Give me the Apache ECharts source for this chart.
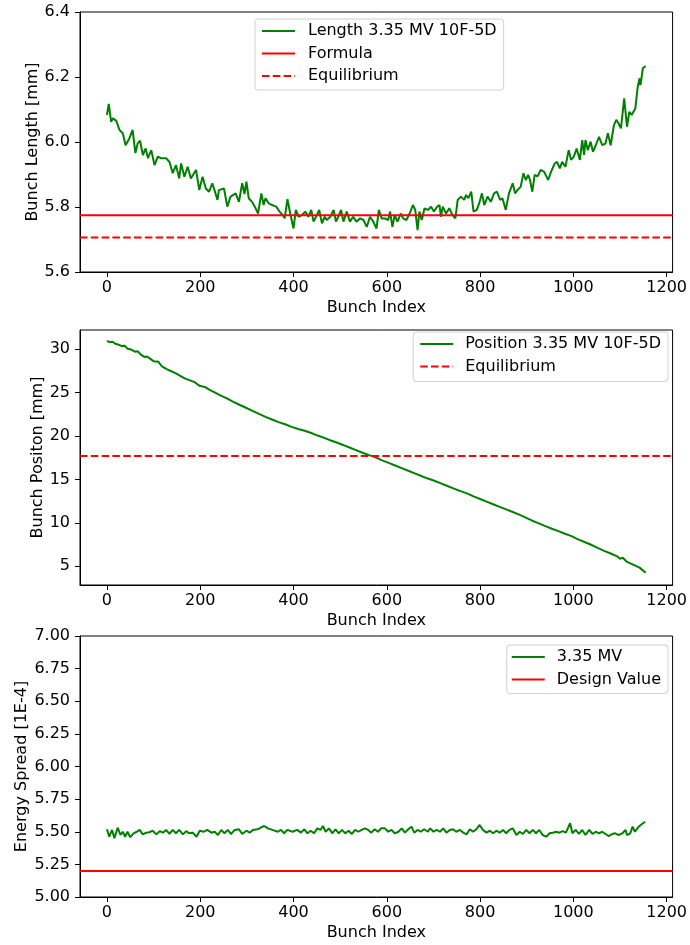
<!DOCTYPE html>
<html>
<head>
<meta charset="utf-8">
<script src="https://cdn.jsdelivr.net/npm/echarts@6/dist/echarts.min.js"></script>
<style>
  html, body { margin: 0; padding: 0; background: #fff; }
  #chart { width: 690px; height: 945px; }
</style>
</head>
<body>
<div id="chart"></div>
<script>
// ---------------- DATA ----------------
const xTicks = [0, 200, 400, 600, 800, 1000, 1200];
const xRange = [-57.75, 1212.75];

// Panel 1: bunch length [mm]
const lengthIdx = [0,4,9,13,20,27,34,40,48,55,61,66,71,77,83,88,95,102,109,116,127,134,141,148,155,159,166,173,180,191,198,205,212,219,226,237,240,251,258,265,276,283,290,295,299,304,311,317,324,331,336,340,347,354,363,370,377,381,387,393,400,405,411,418,425,432,438,443,450,455,461,467,471,479,486,491,496,502,507,514,521,528,535,543,550,557,564,571,578,583,589,596,603,607,612,617,623,630,635,642,649,656,661,666,670,675,681,688,695,701,708,713,716,720,727,734,741,747,752,759,766,770,775,781,786,793,798,804,809,816,823,830,836,843,848,855,862,870,875,880,887,893,898,903,907,912,917,923,930,937,946,951,960,965,971,976,983,990,995,1001,1007,1014,1019,1023,1026,1031,1037,1042,1048,1055,1062,1069,1074,1080,1087,1092,1097,1102,1109,1115,1120,1125,1133,1138,1142,1144,1149,1155];
const lengthVal = [6.083,6.117,6.062,6.073,6.065,6.037,6.027,5.990,6.011,6.037,5.966,5.996,6.004,5.960,5.980,5.950,5.975,5.929,5.955,5.950,5.950,5.939,5.904,5.929,5.888,5.934,5.893,5.924,5.888,5.914,5.852,5.893,5.857,5.847,5.873,5.822,5.852,5.857,5.801,5.832,5.842,5.816,5.873,5.840,5.878,5.827,5.816,5.801,5.780,5.842,5.806,5.827,5.811,5.806,5.801,5.786,5.775,5.765,5.824,5.780,5.734,5.791,5.770,5.775,5.786,5.770,5.791,5.755,5.775,5.791,5.750,5.770,5.760,5.770,5.791,5.755,5.770,5.791,5.755,5.786,5.755,5.770,5.755,5.765,5.760,5.739,5.770,5.755,5.734,5.791,5.765,5.765,5.760,5.786,5.739,5.775,5.755,5.780,5.765,5.760,5.780,5.806,5.791,5.729,5.786,5.760,5.796,5.791,5.801,5.786,5.801,5.806,5.770,5.801,5.780,5.796,5.775,5.765,5.822,5.832,5.822,5.837,5.827,5.847,5.786,5.791,5.811,5.842,5.806,5.832,5.816,5.842,5.847,5.822,5.827,5.791,5.842,5.873,5.842,5.852,5.862,5.904,5.883,5.899,5.883,5.847,5.899,5.894,5.914,5.909,5.883,5.904,5.934,5.939,5.919,5.939,5.924,5.975,5.945,5.955,5.980,5.945,6.006,5.960,6.006,5.975,6.001,5.970,5.990,6.016,5.990,5.996,6.027,5.990,6.052,6.068,6.057,6.042,6.134,6.047,6.093,6.083,6.104,6.170,6.196,6.175,6.227,6.234];
const lengthFormula = 5.775;
const lengthEquilibrium = 5.706;

// Panel 2: bunch position [mm]
const positionIdx = [0,6,12,18,25,32,38,44,52,60,66,72,80,86,94,100,110,118,128,138,148,158,168,178,188,194,200,210,220,232,242,256,270,284,298,312,326,340,354,368,382,396,410,424,438,452,466,480,494,506,520,534,548,562,576,590,604,618,632,646,660,674,688,702,716,730,744,758,772,786,800,814,828,842,856,870,884,898,912,926,940,954,968,982,996,1010,1024,1038,1052,1066,1080,1094,1100,1106,1114,1128,1142,1155];
const positionVal = [30.94,30.80,30.85,30.62,30.50,30.35,30.40,30.05,29.95,29.70,29.75,29.40,29.10,29.15,28.85,28.60,28.55,28.00,27.70,27.45,27.20,26.90,26.60,26.40,26.20,25.95,25.75,25.65,25.30,25.00,24.70,24.35,23.95,23.60,23.25,22.90,22.55,22.20,21.90,21.60,21.35,21.05,20.80,20.60,20.35,20.05,19.78,19.48,19.22,18.97,18.67,18.37,18.07,17.80,17.55,17.20,16.90,16.60,16.30,16.00,15.70,15.40,15.10,14.85,14.55,14.25,13.95,13.65,13.40,13.05,12.75,12.45,12.15,11.85,11.55,11.25,10.95,10.60,10.25,9.95,9.62,9.32,9.05,8.75,8.48,8.10,7.80,7.48,7.12,6.78,6.48,6.15,5.88,5.98,5.55,5.20,4.85,4.25];
const positionEquilibrium = 17.7;
const positionTicks = [5, 10, 15, 20, 25, 30];

// Panel 3: energy spread [1E-4]
const spreadIdx = [0,5,11,16,23,29,34,39,44,50,57,64,70,77,84,91,98,106,113,120,127,134,141,148,155,163,170,176,184,192,199,208,215,224,231,238,245,252,259,266,274,283,290,299,306,313,323,331,337,345,355,366,373,380,387,398,408,416,423,430,437,444,451,458,463,469,476,483,490,497,504,511,518,525,532,539,546,553,560,567,574,581,588,596,603,610,617,625,632,639,646,653,659,666,673,680,688,693,700,707,714,721,728,735,742,749,757,764,771,778,785,792,799,806,814,821,828,835,842,849,856,863,870,878,885,892,899,906,913,920,927,934,942,949,956,963,970,977,984,993,998,1005,1012,1019,1026,1034,1041,1048,1055,1062,1069,1076,1083,1090,1097,1105,1112,1115,1122,1127,1132,1140,1147,1154];
const spreadVal = [5.519,5.462,5.514,5.450,5.531,5.475,5.500,5.462,5.500,5.458,5.488,5.500,5.514,5.480,5.493,5.496,5.508,5.480,5.505,5.493,5.514,5.483,5.514,5.488,5.514,5.480,5.505,5.488,5.493,5.462,5.508,5.500,5.514,5.493,5.500,5.475,5.514,5.488,5.514,5.483,5.514,5.519,5.483,5.508,5.493,5.514,5.519,5.534,5.544,5.526,5.514,5.500,5.514,5.488,5.514,5.500,5.514,5.493,5.519,5.488,5.508,5.488,5.526,5.514,5.544,5.500,5.526,5.488,5.519,5.488,5.514,5.488,5.508,5.483,5.514,5.500,5.514,5.526,5.514,5.493,5.519,5.500,5.526,5.526,5.500,5.514,5.488,5.500,5.526,5.493,5.519,5.539,5.493,5.514,5.500,5.519,5.500,5.526,5.500,5.514,5.500,5.526,5.493,5.514,5.519,5.500,5.514,5.493,5.480,5.519,5.500,5.519,5.552,5.514,5.493,5.508,5.488,5.508,5.493,5.514,5.488,5.514,5.526,5.475,5.500,5.483,5.514,5.488,5.514,5.488,5.514,5.475,5.462,5.488,5.493,5.500,5.493,5.505,5.493,5.565,5.488,5.514,5.483,5.514,5.475,5.514,5.483,5.500,5.488,5.500,5.483,5.467,5.483,5.488,5.475,5.488,5.514,5.475,5.488,5.539,5.500,5.539,5.559,5.577];
const spreadDesign = 5.2;

// ---------------- CHART ----------------
const FONT = 'DejaVu Sans';
const FS = 16;
const GREEN = '#008000';
const RED = '#ff0000';
const DASH = [7.5, 3.3];

function pairs(xs, ys) { return xs.map((x, i) => [x, ys[i]]); }
function hline(v) { return [[xRange[0], v], [xRange[1], v]]; }

const grids = [
  { left: 80, right: 14, top: 12, height: 260 },
  { left: 80, right: 14, top: 330, height: 255 },
  { left: 80, right: 14, top: 636, height: 261 }
].map(g => Object.assign(g, { show: true, borderColor: '#000', borderWidth: 1, backgroundColor: 'transparent' }));

function xAxis(i) {
  return {
    type: 'value', gridIndex: i, min: xRange[0], max: xRange[1],
    name: 'Bunch Index', nameLocation: 'middle', nameGap: 28, nameMoveOverlap: false,
    nameTextStyle: { fontFamily: FONT, fontSize: FS, color: '#000' },
    axisLine: { show: true, onZero: false, lineStyle: { color: '#000', width: 1 } },
    axisTick: { show: true, length: 5, lineStyle: { color: '#000' }, customValues: xTicks },
    axisLabel: { fontFamily: FONT, fontSize: FS, color: '#000', margin: 8, customValues: xTicks, formatter: v => String(v) },
    splitLine: { show: false }
  };
}

function yAxis(i, opts) {
  const ax = {
    type: 'value', gridIndex: i, min: opts.min, max: opts.max,
    name: opts.name, nameLocation: 'middle', nameGap: opts.nameGap, nameMoveOverlap: false,
    nameTextStyle: { fontFamily: FONT, fontSize: FS, color: '#000' },
    axisLine: { show: true, onZero: false, lineStyle: { color: '#000', width: 1 } },
    axisTick: { show: true, length: 5, lineStyle: { color: '#000' } },
    axisLabel: { fontFamily: FONT, fontSize: FS, color: '#000', margin: 10, formatter: opts.fmt },
    splitLine: { show: false }
  };
  if (opts.interval) ax.interval = opts.interval;
  if (opts.ticks) { ax.axisTick.customValues = opts.ticks; ax.axisLabel.customValues = opts.ticks; }
  return ax;
}

function lineSeries(name, i, data, color, dashed) {
  return {
    name: name, type: 'line', xAxisIndex: i, yAxisIndex: i, data: data,
    symbol: 'none', showSymbol: false, animation: false, silent: true,
    lineStyle: { color: color, width: 2, type: dashed ? DASH : 'solid' },
    itemStyle: { color: color }
  };
}

const legendBase = {
  orient: 'vertical', itemWidth: 33, itemHeight: 14, itemGap: 6.5,
  itemStyle: { color: 'transparent', borderColor: 'transparent', borderWidth: 0, opacity: 0 },
  backgroundColor: 'rgba(255,255,255,0.8)', borderColor: '#d0d0d0', borderWidth: 1, borderRadius: 3,
  selectedMode: false
};
function legendText(padLeft) {
  return { fontFamily: FONT, fontSize: FS, color: '#000', padding: [0, 0, 0, padLeft] };
}

const option = {
  backgroundColor: '#fff',
  animation: false,
  grid: grids,
  xAxis: [xAxis(0), xAxis(1), xAxis(2)],
  yAxis: [
    yAxis(0, { min: 5.6, max: 6.4, interval: 0.2, name: 'Bunch Length [mm]', nameGap: 39, fmt: v => v.toFixed(1) }),
    yAxis(1, { min: 2.85, max: 32.2, ticks: positionTicks, name: 'Bunch Positon [mm]', nameGap: 34, fmt: v => String(Math.round(v)) }),
    yAxis(2, { min: 5.0, max: 7.0, interval: 0.25, name: 'Energy Spread [1E-4]', nameGap: 50, fmt: v => v.toFixed(2) })
  ],
  legend: [
    Object.assign({}, legendBase, { left: 255, top: 19, padding: [4, 7, 6, 6], textStyle: legendText(8), data: ['Length 3.35 MV 10F-5D', 'Formula', 'Equilibrium'] }),
    Object.assign({}, legendBase, { right: 22, top: 332, padding: [4, 7, 7, 6], textStyle: legendText(7), data: ['Position 3.35 MV 10F-5D', 'Equilibrium'] }),
    Object.assign({}, legendBase, { right: 22, top: 645, padding: [4, 7, 6, 4], textStyle: legendText(7), data: ['3.35 MV', 'Design Value'] })
  ],
  series: [
    lineSeries('Length 3.35 MV 10F-5D', 0, pairs(lengthIdx, lengthVal), GREEN, false),
    lineSeries('Formula', 0, hline(lengthFormula), RED, false),
    lineSeries('Equilibrium', 0, hline(lengthEquilibrium), RED, true),
    lineSeries('Position 3.35 MV 10F-5D', 1, pairs(positionIdx, positionVal), GREEN, false),
    lineSeries('Equilibrium', 1, hline(positionEquilibrium), RED, true),
    lineSeries('3.35 MV', 2, pairs(spreadIdx, spreadVal), GREEN, false),
    lineSeries('Design Value', 2, hline(spreadDesign), RED, false)
  ]
};

const chart = echarts.init(document.getElementById('chart'), null, { renderer: 'canvas' });
chart.setOption(option);
</script>
</body>
</html>
